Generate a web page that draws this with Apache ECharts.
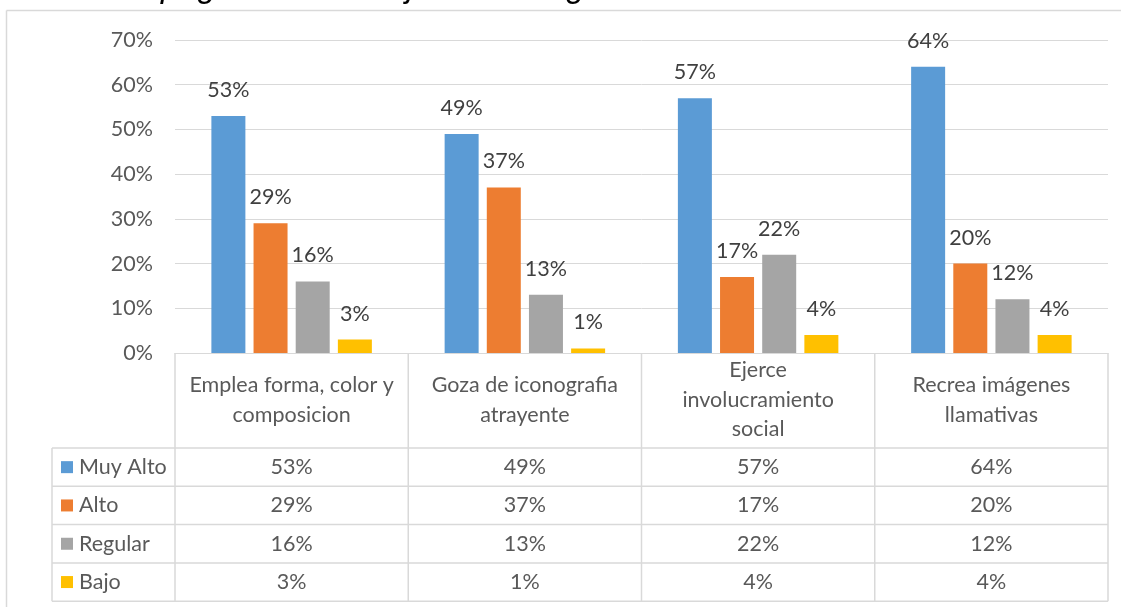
<!DOCTYPE html>
<html>
<head>
<meta charset="utf-8">
<script src="https://cdn.jsdelivr.net/npm/echarts@6/dist/echarts.min.js"></script>
<style>
  html, body { margin: 0; padding: 0; background: #fff; }
  #chart { width: 1121px; height: 607px; }
</style>
</head>
<body>
<div id="chart"></div>
<script>
// categorias y etiquetas (con saltos de linea como en la tabla)
const categories = [
  "Emplea forma, color y composicion",
  "Goza de iconografia atrayente",
  "Ejerce involucramiento social",
  "Recrea imágenes llamativas",
];
const categoryLines = [
  "Emplea forma, color y\ncomposicion",
  "Goza de iconografia\natrayente",
  "Ejerce\ninvolucramiento\nsocial",
  "Recrea imágenes\nllamativas",
];
const seriesNames = ["Muy Alto", "Alto", "Regular", "Bajo"];
const muyAlto = [53, 49, 57, 64];
const alto = [29, 37, 17, 20];
const regular = [16, 13, 22, 12];
const bajo = [3, 1, 4, 4];
const colors = ["#5B9BD5", "#ED7D31", "#A5A5A5", "#FFC000"];

const FONT = "Lato";
const FS = 21.5;
const lineColor = "#d9d9d9";
const seriesData = [muyAlto, alto, regular, bajo];

const chart = echarts.init(document.getElementById("chart"));

const option = {
  animation: false,
  textStyle: { fontFamily: FONT },
  color: colors,
  grid: { left: 175, right: 13, top: 40, bottom: 254 },
  xAxis: {
    type: "category",
    data: categories,
    axisTick: { show: false },
    axisLine: { lineStyle: { color: lineColor, width: 1 } },
    axisLabel: {
      interval: 0,
      margin: 47,
      verticalAlign: "middle",
      fontSize: FS,
      lineHeight: 29.5,
      color: "#595959",
      fontFamily: FONT,
      formatter: (v, i) => categoryLines[i],
    },
  },
  yAxis: {
    type: "value",
    min: 0,
    max: 70,
    interval: 10,
    axisLine: { show: false },
    axisTick: { show: false },
    splitLine: { lineStyle: { color: lineColor, width: 1 } },
    axisLabel: {
      formatter: "{value}%",
      fontSize: FS,
      color: "#595959",
      margin: 22,
      fontFamily: FONT,
    },
  },
  series: seriesNames.map((name, k) => ({
    name: name,
    type: "bar",
    data: seriesData[k],
    barWidth: 34,
    barGap: "24%",
    label: {
      show: true,
      position: "top",
      distance: 15,
      formatter: "{c}%",
      fontSize: FS,
      color: "#404040",
      fontFamily: FONT,
    },
  })),
};

chart.setOption(option);

// tabla de datos debajo del grafico
function buildTable() {
  const centers = categories.map((c) => chart.convertToPixel({ xAxisIndex: 0 }, c));
  const step = centers[1] - centers[0];
  const x0 = centers[0] - step / 2;
  const x1 = centers[centers.length - 1] + step / 2;
  const yAxisLine = chart.convertToPixel({ yAxisIndex: 0 }, 0);
  const headerBottom = yAxisLine + 95;
  const rowH = 38.3;
  const legendLeft = 52;
  const els = [];
  const line = (xa, ya, xb, yb) =>
    els.push({
      type: "line",
      shape: { x1: xa, y1: ya, x2: xb, y2: yb },
      style: { stroke: lineColor, lineWidth: 1.5 },
      silent: true,
    });

  // lineas verticales
  for (let i = 0; i <= categories.length; i++) {
    const x = x0 + i * step;
    line(x, yAxisLine, x, headerBottom + rowH * seriesNames.length);
  }
  line(legendLeft, headerBottom, legendLeft, headerBottom + rowH * seriesNames.length);
  // lineas horizontales
  for (let r = 0; r <= seriesNames.length; r++) {
    const y = headerBottom + r * rowH;
    line(legendLeft, y, x1, y);
  }
  // filas
  seriesNames.forEach((name, r) => {
    const cy = headerBottom + r * rowH + rowH / 2;
    els.push({
      type: "rect",
      shape: { x: 61, y: cy - 6, width: 12, height: 12 },
      style: { fill: colors[r] },
      silent: true,
    });
    els.push({
      type: "text",
      x: 79,
      y: cy,
      style: {
        text: name,
        font: FS + "px " + FONT,
        fill: "#595959",
        verticalAlign: "middle",
      },
      silent: true,
    });
    seriesData[r].forEach((v, i) => {
      els.push({
        type: "text",
        x: centers[i],
        y: cy,
        style: {
          text: v + "%",
          font: FS + "px " + FONT,
          fill: "#595959",
          align: "center",
          verticalAlign: "middle",
        },
        silent: true,
      });
    });
  });
  // borde exterior
  els.push({ type: "line", shape: { x1: 6.5, y1: 10.5, x2: 1121, y2: 10.5 }, style: { stroke: lineColor, lineWidth: 1.5 }, silent: true });
  els.push({ type: "line", shape: { x1: 6.5, y1: 10.5, x2: 6.5, y2: 607 }, style: { stroke: lineColor, lineWidth: 1.5 }, silent: true });
  // titulo recortado arriba
  els.push({
    type: "text",
    x: 660,
    y: 4,
    style: {
      text: "Uso de tipografía del dibujo en el diagrama",
      font: "italic 33px 'Liberation Sans'",
      fill: "#000",
      align: "right",
      verticalAlign: "bottom",
    },
    silent: true,
  });
  chart.setOption({ graphic: els });
}
buildTable();

window.addEventListener("resize", () => chart.resize());
</script>
</body>
</html>
